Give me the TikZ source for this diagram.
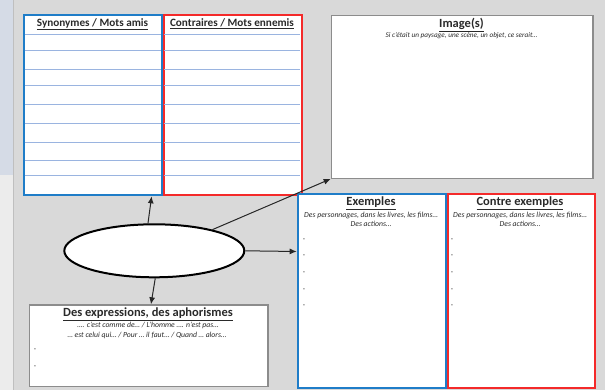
\documentclass[tikz,border=0pt]{standalone}
\usepackage{fontspec}
\setmainfont{Carlito}
\usetikzlibrary{arrows.meta,shapes.geometric,calc}
\definecolor{bbl}{HTML}{1F7DC8}
\definecolor{rrd}{HTML}{F42A2A}
\definecolor{rowl}{HTML}{9AB4E0}
\definecolor{bg}{HTML}{D9D9D9}
\definecolor{leftb}{HTML}{D5DBE6}
\definecolor{leftg}{HTML}{ECECEC}
\definecolor{gbd}{HTML}{8C8C8C}
\definecolor{txt}{HTML}{2A2A2A}
\tikzset{
  box/.style={draw, fill=white, rectangle, inner sep=0pt, anchor=north west},
  bluebox/.style={box, draw=bbl, line width=2pt},
  redbox/.style={box, draw=rrd, line width=2pt},
  graybox/.style={box, draw=gbd, line width=1.2pt},
  rowline/.style={draw=rowl, line width=0.8pt},
  ttl/.style={font=\fontsize{11.2}{12}\selectfont\bfseries, text=txt, inner sep=0pt},
  bigttl/.style={font=\fontsize{12.5}{13}\selectfont\bfseries, text=txt, inner sep=0pt},
  sub/.style={font=\fontsize{7.7}{8}\selectfont\itshape, text=txt, inner sep=0pt},
  dsh/.style={font=\fontsize{7.5}{8}\selectfont, text=txt, inner sep=0pt},
  arr/.style={draw=black!85, line width=1pt, -{Latex[length=7pt,width=6pt]}}
}
\begin{document}
\begin{tikzpicture}[x=1pt,y=-1pt]
\useasboundingbox (0,0) rectangle (605,390);
\fill[bg] (0,0) rectangle (605,390);
\fill[leftb] (0,0) rectangle (13,175);
\fill[leftg] (0,175) rectangle (13,390);
\draw[black!25, line width=0.8pt] (13.5,0) -- (13.5,390);

% boxes
\node[bluebox, minimum width=137.5, minimum height=180.3] (syn) at (23.3,14) {};
\node[redbox, minimum width=137.5, minimum height=180.3] (con) at (163,14) {};
\node[graybox, minimum width=261.6, minimum height=162.7] (img) at (330.7,15) {};
\node[bluebox, minimum width=148.3, minimum height=194] (ex) at (296.7,192.7) {};
\node[redbox, minimum width=147.8, minimum height=194] (cex) at (446.5,192.7) {};
\node[graybox, minimum width=238.6, minimum height=81.4] (expr) at (28.7,304.3) {};
\node[draw=black, line width=2pt, fill=white, ellipse, minimum width=180, minimum height=53, inner sep=0pt] (ell) at (154.3,250.8) {};

% table rows
\foreach \yy in {34,50.7,69,85.3,104.7,123.3,142.7,160,175.3}{
  \draw[rowline] (24.5,\yy) -- (160.5,\yy);
  \draw[rowline] (164.2,\yy) -- (299.5,\yy);
}

% titles
\node[ttl] (tsyn) at (92.5,24) {\underline{Synonymes / Mots amis}};
\node[ttl] (tcon) at (232,24) {\underline{Contraires / Mots ennemis}};
\node[bigttl] (timg) at (461.5,25) {\underline{Image(s)}};
\node[sub, font=\fontsize{7.2}{8}\selectfont\itshape] (simg) at (461.5,36) {Si c'était un paysage, une scène, un objet, ce serait…};

\node[bigttl] (tex) at (371,203) {\underline{Exemples}};
\node[sub] (sex1) at (371,215) {Des personnages, dans les livres, les films…};
\node[sub] (sex2) at (371,223.7) {Des actions…};
\node[bigttl] (tcex) at (520,203) {\underline{Contre exemples}};
\node[sub] (scex1) at (520,215) {Des personnages, dans les livres, les films…};
\node[sub] (scex2) at (520,223.7) {Des actions…};

\foreach \yy [count=\i] in {240,256.7,273,290,306.7}{
  \node[dsh] (dex\i) at (304,\yy) {-};
  \node[dsh] (dcex\i) at (452,\yy) {-};
}

\node[bigttl] (texpr) at (148,314) {\underline{Des expressions, des aphorismes}};
\node[sub] (sexpr1) at (148,325.5) {…. c'est comme de… / L'homme …. n'est pas…};
\node[sub] (sexpr2) at (147,335) {… est celui qui… / Pour … il faut… / Quand … alors…};
\node[dsh] (dexpr1) at (35,350.7) {-};
\node[dsh] (dexpr2) at (35,367.7) {-};

% connectors
\coordinate (synin) at ($(syn.south west)!0.92!(syn.south east)$);
\coordinate (exprin) at ($(expr.north west)!0.51!(expr.north east)$);
\coordinate (exin) at ($(ex.north west)!0.3!(ex.south west)$);
\draw[arr] (ell.103) -- (synin);
\draw[arr] (ell.272) -- (exprin);
\draw[arr] (ell.east) -- (exin);
\draw[arr] (ell.20) -- (img.south west);
\end{tikzpicture}
\end{document}
